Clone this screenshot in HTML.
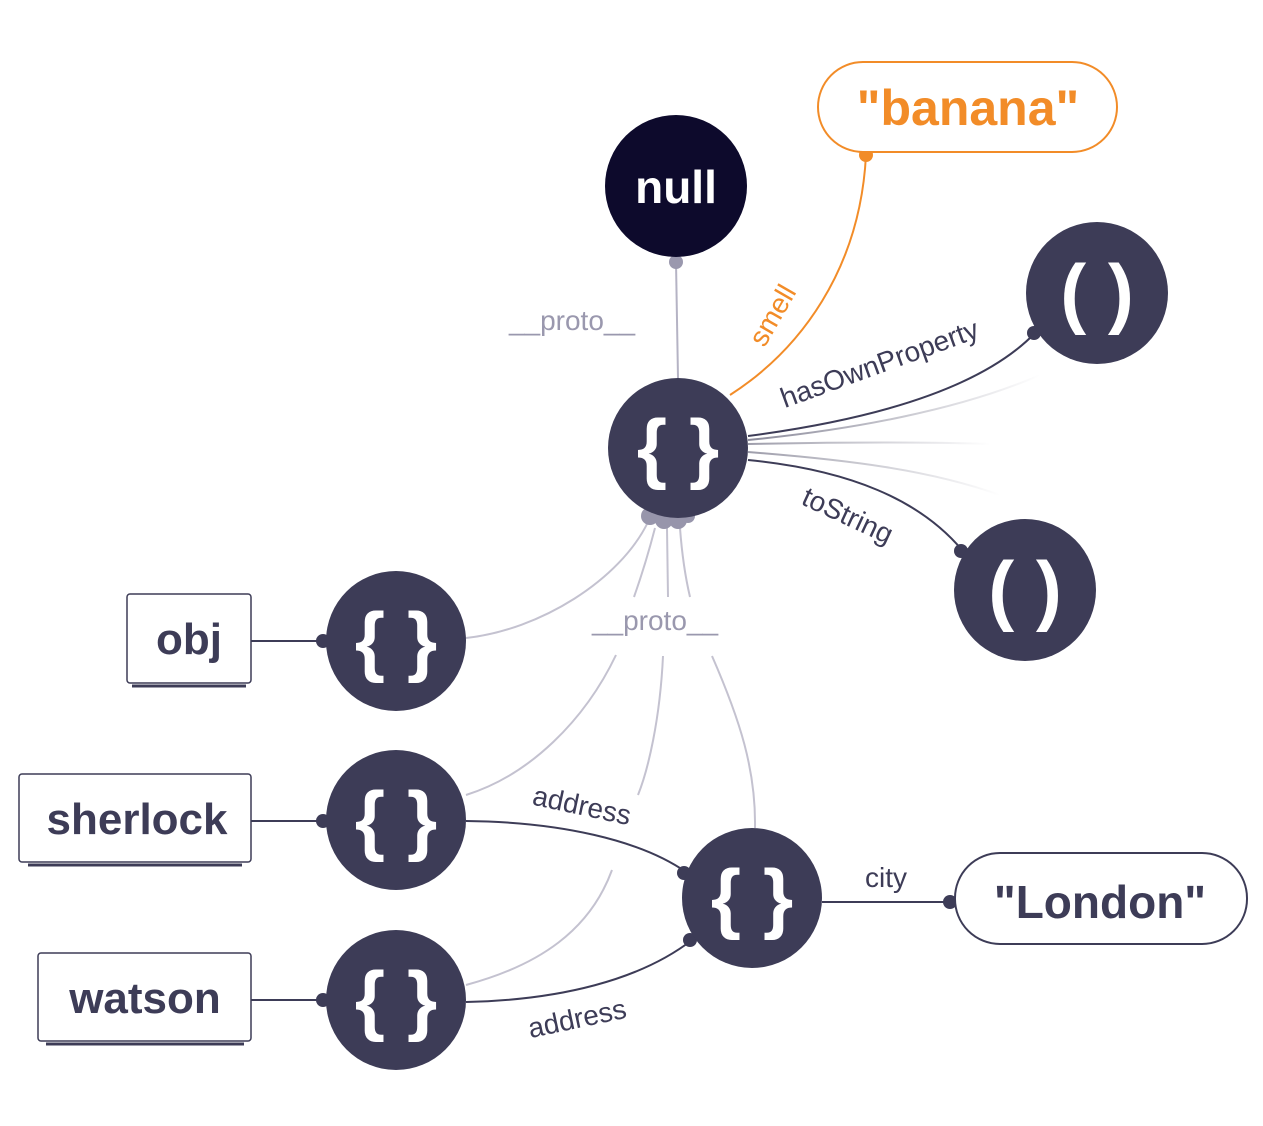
<!DOCTYPE html>
<html><head><meta charset="utf-8"><style>
html,body{margin:0;padding:0;background:#fff;width:1263px;height:1126px;overflow:hidden}
svg{display:block}
text{font-family:"Liberation Sans",sans-serif}
</style></head><body>
<svg width="1263" height="1126" viewBox="0 0 1263 1126" xmlns="http://www.w3.org/2000/svg">
<defs>
<linearGradient id="fade" x1="0" x2="1" y1="0" y2="0"><stop offset="0" stop-color="#3d3c57"/><stop offset="1" stop-color="#3d3c57" stop-opacity="0"/></linearGradient>
</defs>
<g fill="none" stroke-width="2">
<line x1="676" y1="262" x2="678" y2="378" stroke="#b5b3c4"/>
<path d="M866 155 C860 270 800 350 730 395" stroke="#f28c28"/>
<path d="M748 436 C870 420 980 390 1035 333" stroke="#3d3c57"/>
<path d="M748 440 C850 430 960 410 1040 375" stroke="url(#fade)" opacity="0.6"/>
<path d="M748 444 C850 442 930 442 990 444" stroke="url(#fade)" opacity="0.5"/>
<path d="M748 452 C850 460 930 470 1000 495" stroke="url(#fade)" opacity="0.5"/>
<path d="M748 460 C850 470 920 500 962 550" stroke="#3d3c57"/>
<g stroke="#c4c2d0">
<path d="M648 522 C620 580 540 630 466 638"/>
<path d="M655 528 C648 555 640 580 634 597"/>
<path d="M667 528 L668 597"/>
<path d="M680 528 C682 555 686 580 690 597"/>
<path d="M616 655 C585 720 530 775 466 795"/>
<path d="M663 656 C660 720 648 770 638 795"/>
<path d="M612 870 C590 930 540 965 466 985"/>
<path d="M712 656 C740 720 756 770 755 828"/>
</g>
<path d="M466 821 C560 822 640 840 686 872" stroke="#3d3c57"/>
<path d="M466 1002 C560 1000 640 980 692 940" stroke="#3d3c57"/>
<line x1="822" y1="902" x2="952" y2="902" stroke="#3d3c57"/>
<line x1="251" y1="641" x2="326" y2="641" stroke="#3d3c57"/>
<line x1="251" y1="821" x2="326" y2="821" stroke="#3d3c57"/>
<line x1="251" y1="1000" x2="326" y2="1000" stroke="#3d3c57"/>
</g>
<g fill="#3d3c57">
<circle cx="323" cy="641" r="7"/><circle cx="323" cy="821" r="7"/><circle cx="323" cy="1000" r="7"/>
<circle cx="684" cy="873" r="7"/><circle cx="690" cy="940" r="7"/>
<circle cx="950" cy="902" r="7"/>
<circle cx="1034" cy="333" r="7"/><circle cx="961" cy="551" r="7"/>
</g>
<circle cx="676" cy="262" r="7" fill="#9a98ae"/>
<circle cx="866" cy="155" r="7" fill="#f28c28"/>
<g fill="#9795ab"><circle cx="650" cy="516" r="9"/><circle cx="664" cy="520" r="9"/><circle cx="678" cy="520" r="9"/><circle cx="688" cy="516" r="7"/></g>
<circle cx="676" cy="186" r="71" fill="#0d0a2c"/>
<text x="676" y="203" font-size="46" font-weight="bold" fill="#fff" text-anchor="middle">null</text>
<rect x="818" y="62" width="299" height="90" rx="45" fill="#fff" stroke="#f28c28" stroke-width="2"/>
<text x="968" y="125" font-size="50" font-weight="bold" fill="#f28c28" text-anchor="middle">"banana"</text>
<rect x="955" y="853" width="292" height="91" rx="45" fill="#fff" stroke="#3d3c57" stroke-width="2"/>
<text x="1100" y="918" font-size="46" font-weight="bold" fill="#3d3c57" text-anchor="middle">"London"</text>
<g fill="#3d3c57">
<circle cx="678" cy="448" r="70"/><circle cx="1097" cy="293" r="71"/><circle cx="1025" cy="590" r="71"/>
<circle cx="396" cy="641" r="70"/><circle cx="396" cy="820" r="70"/><circle cx="396" cy="1000" r="70"/>
<circle cx="752" cy="898" r="70"/>
</g>
<g fill="#fff" font-size="78" font-weight="bold" text-anchor="middle">
<text x="678" y="474">{ }</text>
<text x="396" y="667">{ }</text>
<text x="396" y="846">{ }</text>
<text x="396" y="1026">{ }</text>
<text x="752" y="924">{ }</text>
<text x="1097" y="319">( )</text>
<text x="1025" y="616">( )</text>
</g>
<g fill="#fff" stroke="#3d3c57" stroke-width="1.5">
<rect x="127" y="594" width="124" height="89" rx="3"/>
<rect x="19" y="774" width="232" height="88" rx="3"/>
<rect x="38" y="953" width="213" height="88" rx="3"/>
</g>
<g stroke="#3d3c57" stroke-width="3"><line x1="132" y1="686" x2="246" y2="686"/><line x1="28" y1="865" x2="242" y2="865"/><line x1="46" y1="1044" x2="244" y2="1044"/></g>
<g fill="#3d3c57" font-size="44" font-weight="bold" text-anchor="middle">
<text x="189" y="654">obj</text>
<text x="137" y="834">sherlock</text>
<text x="145" y="1013">watson</text>
</g>
<g font-size="28" fill="#3d3c57">
<text x="572" y="330" fill="#9a98ae" text-anchor="middle">__proto__</text>
<text x="655" y="630" fill="#9a98ae" text-anchor="middle">__proto__</text>
<text x="772" y="325" fill="#f28c28" transform="rotate(-60 772 315)" text-anchor="middle">smell</text>
<text x="880" y="373" transform="rotate(-20 880 365)" text-anchor="middle">hasOwnProperty</text>
<text x="848" y="525" transform="rotate(25 848 515)" text-anchor="middle">toString</text>
<text x="582" y="815" transform="rotate(12 582 805)" text-anchor="middle">address</text>
<text x="577" y="1028" transform="rotate(-12 577 1018)" text-anchor="middle">address</text>
<text x="886" y="887" text-anchor="middle">city</text>
</g>
</svg>
</body></html>
